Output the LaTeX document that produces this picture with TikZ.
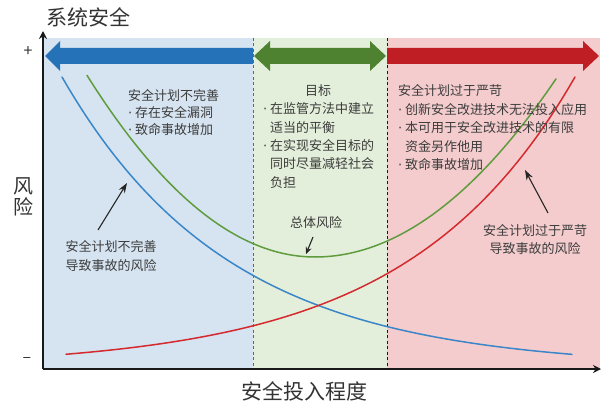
\documentclass[tikz,border=0pt]{standalone}
\usepackage{fontspec}
\newfontfamily\cjk{Noto Sans CJK SC}
\newfontfamily\latinfont{DejaVu Sans}
\newcommand\bul{\makebox[7pt][l]{\latinfont ·}}
\newcommand\ind{\hspace*{7pt}}
\usetikzlibrary{arrows.meta}
\definecolor{bgblue}{HTML}{D6E4F1}
\definecolor{bggreen}{HTML}{E3EFDA}
\definecolor{bgred}{HTML}{F4CCCD}
\definecolor{arrblue}{HTML}{2672B8}
\definecolor{arrgreen}{HTML}{4E8231}
\definecolor{arrred}{HTML}{BE1E24}
\definecolor{cblue}{HTML}{3A86C8}
\definecolor{cgreen}{HTML}{5E9C3E}
\definecolor{cred}{HTML}{D42A2E}
\definecolor{txt}{HTML}{3C3C3C}
\begin{document}
\begin{tikzpicture}[x=1pt,y=-1pt,
  txtblock/.style={text=txt, font=\cjk\fontsize{13}{18.4}\selectfont, align=left, inner sep=0pt, anchor=north west},
  lbl/.style={text=txt, font=\cjk\fontsize{13}{18.5}\selectfont, align=center, inner sep=0pt},
  axlbl/.style={text=black!80, font=\cjk\fontsize{21}{21}\selectfont, inner sep=0pt},
  curve/.style={line width=1.5pt, line cap=round},
  note/.style={-{Stealth[length=10pt,width=7pt]}, line width=1.1pt, black!85},
  axis/.style={line width=2.8pt, black!90, -{Stealth[length=8pt,width=8pt]}},
  divider/.style={line width=1pt, dash pattern=on 3pt off 2.5pt}]
\useasboundingbox (0,0) rectangle (602,404);
% background regions
\fill[bgblue] (43,38) rectangle (253,369);
\fill[bggreen] (253,38) rectangle (387,369);
\fill[bgred] (387,38) rectangle (600,369);
\draw[divider, black!60] (253,38) -- (253,369);
\draw[divider, black!90] (387,38) -- (387,369);
% big arrows
\fill[arrblue] (253,48) -- (60,48) -- (60,41) -- (45,56) -- (60,71) -- (60,64) -- (253,64) -- cycle;
\fill[arrgreen] (254,56) -- (270,41) -- (270,48) -- (370,48) -- (370,41) -- (386,56) -- (370,71) -- (370,64) -- (270,64) -- (270,71) -- cycle;
\fill[arrred] (387,48) -- (583,48) -- (583,41) -- (599,56) -- (583,71) -- (583,64) -- (387,64) -- cycle;
% curves
\draw[curve, cblue] plot[domain=62:572, samples=80] (\x, {368-291*exp(-0.006*(\x-62))});
\draw[curve, cred] plot[domain=66:575, samples=80] (\x, {368-291*exp(-0.006*(575-\x))});
\draw[curve, cgreen] plot[domain=87:315, samples=50] (\x, {257-0.0035*(\x-315)*(\x-315)})
  -- plot[domain=315:556, samples=50] (\x, {257-0.00306*(\x-315)*(\x-315)});
% axes
\coordinate (O) at (43,369);
\coordinate (ytip) at (43,31);
\coordinate (xtip) at (601,369);
\draw[axis] (O) -- (ytip);
\draw[axis] (O) -- (xtip);
% labels
\node[axlbl] (title) at (88,17) {系统安全};
\node[axlbl] (xlab) at (304,391) {安全投入程度};
\node[axlbl, align=center, font=\cjk\fontsize{20}{20.5}\selectfont] (ylab) at (23,197) {风\\险};
\node[text=black!80, font=\cjk\fontsize{16}{16}\selectfont, inner sep=0pt] (plus) at (28,52) {+};
\node[text=black!80, font=\cjk\fontsize{16}{16}\selectfont, inner sep=0pt] (minus) at (27,360) {–};
% text blocks
\node[txtblock, font=\cjk\fontsize{13}{17}\selectfont] (bluetxt) at (128,89.5) {安全计划不完善\\\bul 存在安全漏洞\\\bul 致命事故增加};
\node[lbl] (goal) at (318,91) {目标};
\node[txtblock] (greentxt) at (263,102.6) {\bul 在监管方法中建立\\\ind 适当的平衡\\\bul 在实现安全目标的\\\ind 同时尽量减轻社会\\\ind 负担};
\node[txtblock] (redtxt) at (398,84.6) {安全计划过于严苛\\\bul 创新安全改进技术无法投入应用\\\bul 本可用于安全改进技术的有限\\\ind 资金另作他用\\\bul 致命事故增加};
\node[lbl] (total) at (316,223) {总体风险};
\node[lbl] (leftnote) at (111,256) {安全计划不完善\\导致事故的风险};
\node[lbl] (rightnote) at (535,239.5) {安全计划过于严苛\\导致事故的风险};
% annotation arrows
\coordinate (la) at (98,230);
\coordinate (lb) at (127,183);
\coordinate (ra) at (548,213);
\coordinate (rb) at (525,170);
\coordinate (ta) at (313,237);
\coordinate (tb) at (306,254);
\draw[note] (la) -- (lb);
\draw[note] (ra) -- (rb);
\draw[note, -{Stealth[length=7pt,width=6pt]}] (ta) -- (tb);
\end{tikzpicture}
\end{document}
